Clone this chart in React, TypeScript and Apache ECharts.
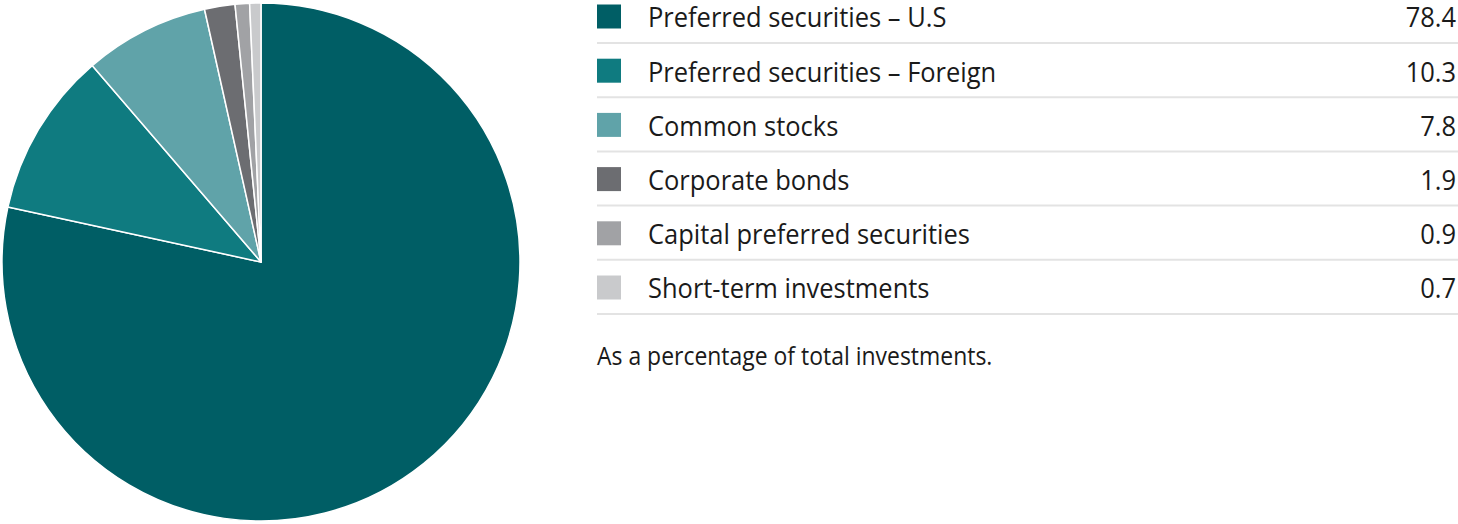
import React, { useEffect, useRef } from "react";
import * as echarts from "echarts";

const categories = [
  "Preferred securities – U.S",
  "Preferred securities – Foreign",
  "Common stocks",
  "Corporate bonds",
  "Capital preferred securities",
  "Short-term investments",
];
const values = [78.4, 10.3, 7.8, 1.9, 0.9, 0.7];
const valueLabels = ["78.4", "10.3", "7.8", "1.9", "0.9", "0.7"];
const colors = ["#005e65", "#0f7b80", "#60a3a9", "#6c6d71", "#a1a2a5", "#c9cacc"];
const footnote = "As a percentage of total investments.";

const FONT = "'Open Sans', sans-serif";

export default function App() {
  const ref = useRef<HTMLDivElement>(null);
  useEffect(() => {
    document.body.style.margin = "0";
    const chart = echarts.init(ref.current!, null, { renderer: "svg" });
    const rowTop = 0;
    const rowH = 54.2;
    const legendX = 597;
    const rightX = 1456;
    const sx = 0.91;
    const graphics: any[] = [];
    categories.forEach((c, i) => {
      const cy = rowTop + 16.5 + i * rowH;
      graphics.push({
        type: "rect",
        shape: { x: legendX, y: cy - 12, width: 24, height: 24 },
        style: { fill: colors[i] },
      });
      graphics.push({
        type: "text",
        x: 648,
        y: cy,
        scaleX: sx,
        style: {
          text: c,
          fill: "#1a1a1a",
          font: `28px ${FONT}`,
          textVerticalAlign: "middle",
          textAlign: "left",
        },
      });
      graphics.push({
        type: "text",
        x: rightX,
        y: cy,
        scaleX: sx,
        style: {
          text: valueLabels[i],
          fill: "#1a1a1a",
          font: `28px ${FONT}`,
          textVerticalAlign: "middle",
          textAlign: "right",
        },
      });
      graphics.push({
        type: "line",
        shape: { x1: legendX, y1: cy + 26.5, x2: 1458, y2: cy + 26.5 },
        style: { stroke: "#e3e3e3", lineWidth: 2 },
      });
    });
    graphics.push({
      type: "text",
      x: legendX,
      y: 355,
      scaleX: 0.9,
      style: {
        text: footnote,
        fill: "#1a1a1a",
        font: `25.5px ${FONT}`,
        textVerticalAlign: "middle",
        textAlign: "left",
      },
    });
    chart.setOption({
      animation: false,
      color: colors,
      graphic: graphics,
      series: [
        {
          type: "pie",
          center: [261, 262],
          radius: 259,
          startAngle: 90,
          clockwise: true,
          label: { show: false },
          labelLine: { show: false },
          emphasis: { disabled: true },
          itemStyle: { borderColor: "#ffffff", borderWidth: 1.5 },
          data: categories.map((c, i) => ({ name: c, value: values[i] })),
        },
      ],
    });
    return () => chart.dispose();
  }, []);
  return (
    <div
      ref={ref}
      style={{ width: 1458, height: 524, position: "absolute", left: 0, top: 0 }}
    />
  );
}
